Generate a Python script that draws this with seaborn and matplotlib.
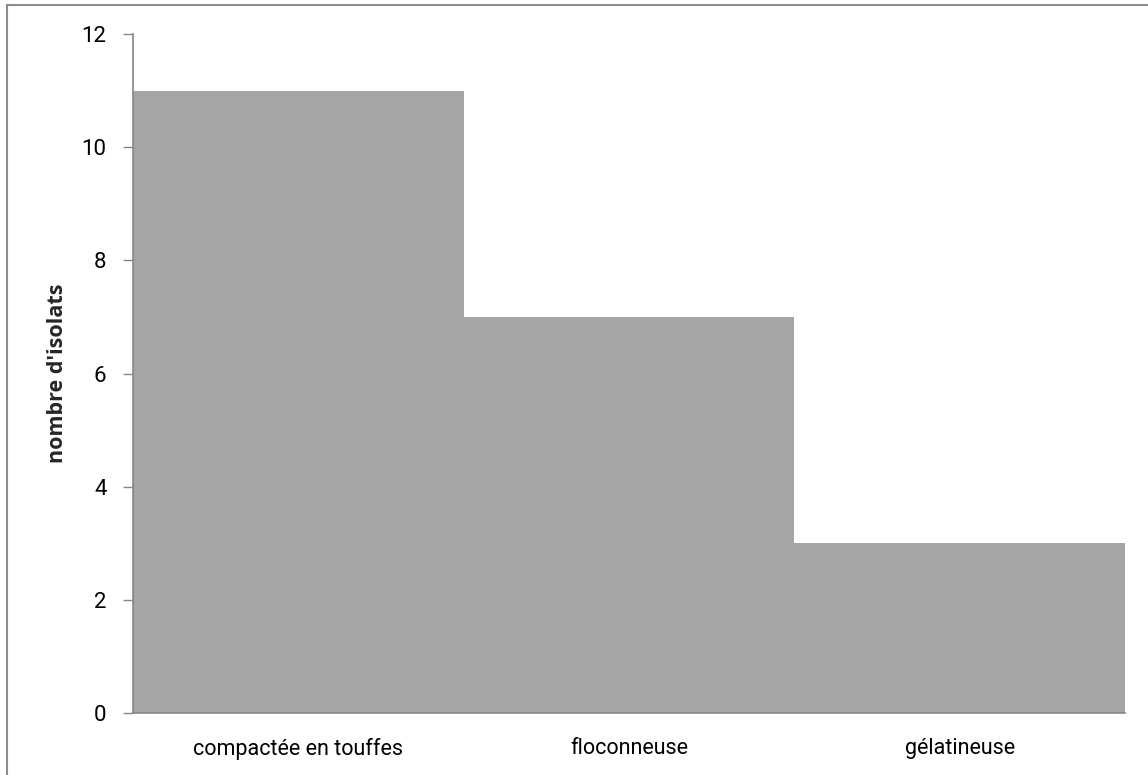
import matplotlib
matplotlib.use("Agg")
import matplotlib.pyplot as plt
import seaborn as sns
import pandas as pd
from matplotlib.patches import Rectangle

categories = ["compactée en touffes", "floconneuse", "gélatineuse"]
values = [11, 7, 3]
y_ticks = [0, 2, 4, 6, 8, 10, 12]
y_label = "nombre d'isolats"

sns.set_theme(style="white")
plt.rcParams['font.family'] = ['Roboto', 'DejaVu Sans']

df = pd.DataFrame({"cat": categories, "val": values})

fig = plt.figure(figsize=(11.48, 7.75), dpi=100)
ax = fig.add_axes([133/1148, 1 - 713/775, (1125 - 133)/1148, (713 - 34)/775])

sns.barplot(data=df, x="cat", y="val", color="#a5a5a5", saturation=1,
            width=1.0, edgecolor="none", linewidth=0, ax=ax)

fs = 15.5
ax.set_xlim(-0.5, 2.5)
ax.set_ylim(0, 12)
ax.set_yticks(y_ticks)
ax.set_yticklabels([str(t) for t in y_ticks], fontsize=16)
ax.tick_params(axis="y", direction="out", length=7, width=1, color="#868686",
               left=True, pad=12, labelcolor="black")
ax.tick_params(axis="x", length=0, pad=18, labelsize=fs, labelcolor="black")
ax.set_xlabel("")
ax.set_ylabel(y_label, fontsize=15.5, fontweight="bold", labelpad=10,
              family=['Open Sans', 'DejaVu Sans'])

for s in ["top", "right"]:
    ax.spines[s].set_visible(False)
for s in ["left", "bottom"]:
    ax.spines[s].set_color("#868686")
    ax.spines[s].set_linewidth(1.2)

# outer chart-area border (only top and left visible in reference)
fig.patches.append(Rectangle((6.5/1148, -0.1), 1.2, 1 - 5/775 + 0.1,
                             transform=fig.transFigure, fill=False,
                             edgecolor="#8c8c8c", linewidth=1.5))

fig.savefig("out.png", dpi=100)
